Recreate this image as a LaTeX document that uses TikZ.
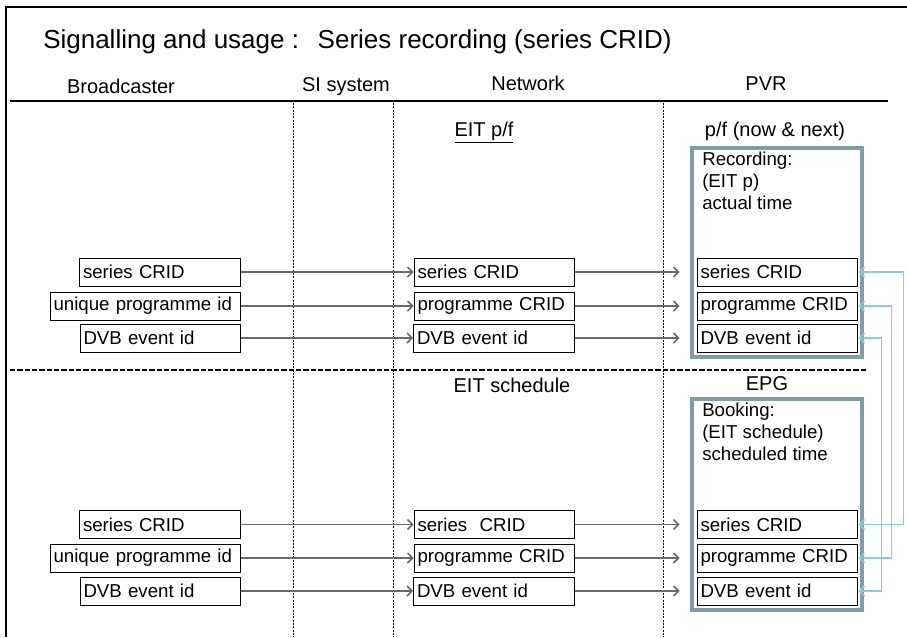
\documentclass[tikz,border=0pt]{standalone}
\usepackage{fontspec}
\setmainfont{Liberation Sans}
\usetikzlibrary{arrows.meta,fit}
\definecolor{framegray}{RGB}{128,158,162}
\definecolor{linkteal}{RGB}{140,205,212}
\definecolor{flowgray}{RGB}{105,105,105}
\tikzset{
  idbox/.style={draw, line width=0.7pt, minimum height=21pt, inner xsep=2.5pt, inner ysep=0pt, text width=#1, align=left, font=\fontsize{14}{16}\selectfont},
  idbox/.default=115.5pt,
  flow/.style={draw=flowgray, line width=1.2pt, -{Straight Barb[length=3.8pt,width=7.5pt]}},
  pairlink/.style={draw=linkteal, line width=1.2pt, {Straight Barb[length=3.8pt,width=7.5pt]}-{Straight Barb[length=3.8pt,width=7.5pt]}},
  pvrframe/.style={draw=framegray, line width=2.4pt, inner sep=0pt},
  colhead/.style={font=\fontsize{15}{18}\selectfont, anchor=base},
  pvrnote/.style={font=\fontsize{14}{16.5}\selectfont, align=left, anchor=north west, inner sep=0pt},
  lane/.style={line width=0.5pt, dash pattern=on 1.5pt off 1pt},
}
\begin{document}
\begin{tikzpicture}[x=0.75pt, y=-0.75pt]
\useasboundingbox (0,0) rectangle (907,637);
\draw[line width=1.5pt] (6,637) -- (6,7) -- (907,7);
\node[anchor=base west, inner sep=0pt, font=\fontsize{19.5}{22}\selectfont] (title) at (43,48) {Signalling and usage :\hspace{14pt}Series recording (series CRID)};
\node[colhead] (hbroad) at (121,93) {Broadcaster};
\node[colhead] (hsi) at (346,91) {SI system};
\node[colhead] (hnet) at (528,90) {Network};
\node[colhead] (hpvr) at (766,90) {PVR};
\draw[line width=1.2pt] (10,101) -- (888,101);
\draw[lane] (293,103) -- (293,637);
\draw[lane] (393,103) -- (393,637);
\draw[lane] (663,103) -- (663,637);
\draw[dashed, line width=0.9pt, dash pattern=on 4pt off 1.5pt] (10,370) -- (866,370);

\node[colhead] (eitpf) at (484,136) {\underline{EIT p/f}};
\node[colhead] (pfnext) at (775,136) {p/f (now \& next)};
\node[pvrframe, fit={(692,148) (862,357)}] (recframe) {};
\node[pvrnote] (recnote) at (702,151.5) {Recording:\\(EIT p)\\actual time};
\node[idbox] (bs1) at (160,272) {series CRID};
\node[idbox=138pt] (bp1) at (145.5,306) {unique programme id};
\node[idbox] (bd1) at (160.5,338) {DVB event id};
\node[idbox] (ns1) at (494.5,272) {series CRID};
\node[idbox] (np1) at (494.5,306) {programme CRID};
\node[idbox] (nd1) at (494,338) {DVB event id};
\node[idbox] (ps1) at (777.5,272) {series CRID};
\node[idbox] (pp1) at (777.5,306) {programme CRID};
\node[idbox] (pd1) at (777.5,338) {DVB event id};

\node[colhead] (eitsched) at (512,392) {EIT schedule};
\node[colhead] (epg) at (767,390) {EPG};
\node[pvrframe, fit={(692,399) (862,610)}] (bookframe) {};
\node[pvrnote] (booknote) at (702,403) {Booking:\\(EIT schedule)\\scheduled time};
\node[idbox] (bs2) at (160,524.5) {series CRID};
\node[idbox=138pt] (bp2) at (145.5,558) {unique programme id};
\node[idbox] (bd2) at (160.5,591) {DVB event id};
\node[idbox] (ns2) at (494.5,524.5) {series\ \ CRID};
\node[idbox] (np2) at (494.5,558) {programme CRID};
\node[idbox] (nd2) at (494,591) {DVB event id};
\node[idbox] (ps2) at (777.5,524.5) {series CRID};
\node[idbox] (pp2) at (777.5,558) {programme CRID};
\node[idbox] (pd2) at (777.5,591) {DVB event id};

\draw[flow] (bs1) -- (ns1);
\draw[flow] (bp1) -- (np1);
\draw[flow] (bd1) -- (nd1);
\draw[flow, shorten >=12.75pt] (ns1) -- (ps1);
\draw[flow, shorten >=12.75pt] (np1) -- (pp1);
\draw[flow, shorten >=12.75pt] (nd1) -- (pd1);
\draw[flow] (bs2) -- (ns2);
\draw[flow] (bp2) -- (np2);
\draw[flow] (bd2) -- (nd2);
\draw[flow, shorten >=12.75pt] (ns2) -- (ps2);
\draw[flow, shorten >=12.75pt] (np2) -- (pp2);
\draw[flow, shorten >=12.75pt] (nd2) -- (pd2);

\draw[pairlink] (ps1.east) -- ++(45,0) |- (ps2.east);
\draw[pairlink] (pp1.east) -- ++(33,0) |- (pp2.east);
\draw[pairlink] (pd1.east) -- ++(23,0) |- (pd2.east);
\end{tikzpicture}
\end{document}
